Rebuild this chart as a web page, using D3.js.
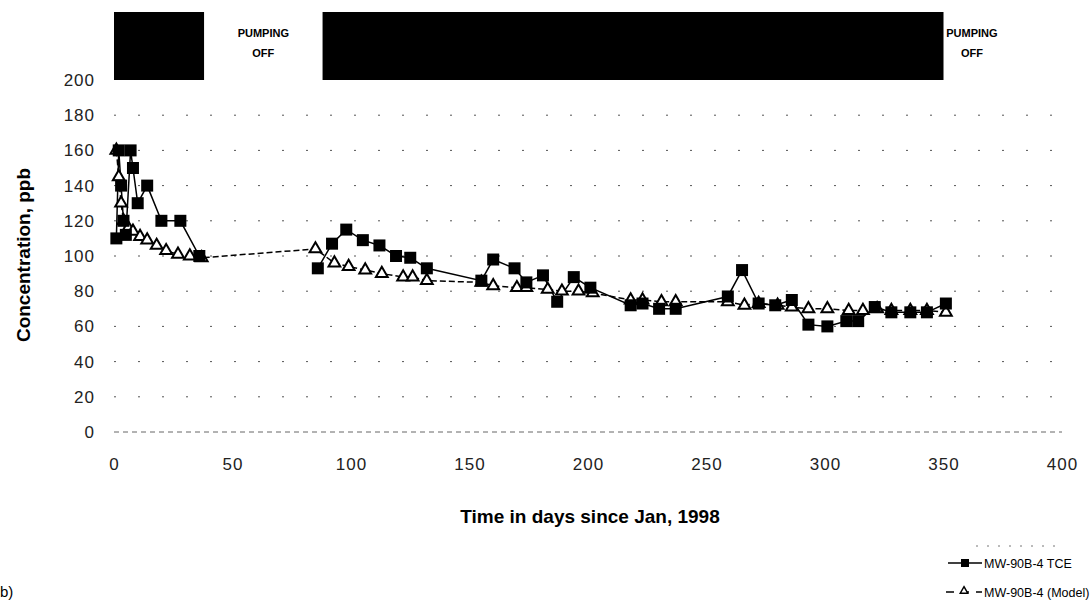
<!DOCTYPE html>
<html>
<head>
<meta charset="utf-8">
<script src="https://cdn.jsdelivr.net/npm/d3@7"></script>
<style>
  body { margin: 0; background: #fff; }
  text { font-family: "Liberation Sans", Arial, sans-serif; fill: #000; }
</style>
</head>
<body>
<script>
// Chart data
const xTicks = [0, 50, 100, 150, 200, 250, 300, 350, 400];
const yTicks = [0, 20, 40, 60, 80, 100, 120, 140, 160, 180, 200];

// periods when pumping was on (days)
const pumpingOn = [[0, 38], [88, 350]];
const pumpingOffText = ['PUMPING', 'OFF'];

const tceDays = [1, 2, 3, 4, 5, 7, 8, 10, 14, 20, 28, 36,
    86, 92, 98, 105, 112, 119, 125, 132,
    155, 160, 169, 174, 181, 187, 194, 201, 218, 223, 230, 237,
    259, 265, 272, 279, 286, 293, 301, 309, 314, 321, 328, 336, 343, 351];
const tceValues = [110, 160, 140, 120, 112, 160, 150, 130, 140, 120, 120, 100,
    93, 107, 115, 109, 106, 100, 99, 93,
    86, 98, 93, 85, 89, 74, 88, 82, 72, 73, 70, 70,
    77, 92, 73, 72, 75, 61, 60, 63, 63, 71, 68, 68, 68, 73];

const modelDays = [1, 2, 3, 4, 6, 8, 11, 14, 18, 22, 27, 32, 37,
    85, 93, 99, 106, 113, 122, 126, 132,
    155, 160, 170, 174, 183, 189, 196, 202, 218, 223, 231, 237,
    259, 266, 272, 280, 286, 293, 301, 310, 316, 322, 328, 336, 343, 351];
const modelValues = [160, 145, 130, 120, 116, 114, 111, 109, 106, 103, 101, 100, 99,
    104, 96, 94, 92, 90, 88, 88, 86,
    85, 83, 82, 82, 81, 80, 80, 79, 75, 75, 74, 74,
    74, 72, 73, 72, 71, 70, 70, 69, 69, 70, 69, 69, 69, 68];

const seriesNames = ['MW-90B-4 TCE', 'MW-90B-4 (Model)'];

const width = 1091;
const height = 608;

const svg = d3.select('body')
    .append('svg')
    .attr('width', width)
    .attr('height', height);

const xScale = d3.scaleLinear()
    .domain([0, 400])
    .range([114, 1062]);

const yScale = d3.scaleLinear()
    .domain([0, 200])
    .range([432, 80]);

// sparse dotted gridlines, like the scanned original
svg.append('g')
    .selectAll('line')
    .data(yTicks.filter(d => d > 0 && d < 200))
    .enter()
    .append('line')
    .attr('x1', xScale(0))
    .attr('x2', xScale(400))
    .attr('y1', d => yScale(d))
    .attr('y2', d => yScale(d))
    .attr('stroke', '#555')
    .attr('stroke-width', 1)
    .attr('stroke-dasharray', '2,22');

// zero line
svg.append('line')
    .attr('x1', xScale(0))
    .attr('x2', xScale(400))
    .attr('y1', yScale(0))
    .attr('y2', yScale(0))
    .attr('stroke', '#666')
    .attr('stroke-width', 1)
    .attr('stroke-dasharray', '5,4');

// y axis labels
const yAxis = d3.axisLeft(yScale).tickValues(yTicks).tickSize(0).tickPadding(0);
const yAxisG = svg.append('g')
    .attr('transform', 'translate(95,0)')
    .call(yAxis);
yAxisG.select('.domain').remove();
yAxisG.selectAll('text')
    .style('font-size', '17px')
    .style('letter-spacing', '1px')
    .style('fill', '#222');

// x axis labels
const xAxis = d3.axisBottom(xScale).tickValues(xTicks).tickSize(0).tickPadding(0);
const xAxisG = svg.append('g')
    .attr('transform', 'translate(0,458)')
    .call(xAxis);
xAxisG.select('.domain').remove();
xAxisG.selectAll('text')
    .style('font-size', '17px')
    .style('letter-spacing', '1px')
    .style('fill', '#222');

// axis titles
svg.append('text')
    .attr('x', 590)
    .attr('y', 523)
    .attr('text-anchor', 'middle')
    .attr('font-weight', 'bold')
    .style('font-size', '19px')
    .text('Time in days since Jan, 1998');

svg.append('text')
    .attr('transform', 'rotate(-90)')
    .attr('x', -255)
    .attr('y', 30)
    .attr('text-anchor', 'middle')
    .attr('font-weight', 'bold')
    .style('font-size', '19px')
    .text('Concentration, ppb');

// pumping bars
svg.append('g')
    .selectAll('rect')
    .data(pumpingOn)
    .enter()
    .append('rect')
    .attr('x', d => xScale(d[0]))
    .attr('width', d => xScale(d[1]) - xScale(d[0]))
    .attr('y', 12)
    .attr('height', yScale(200) - 12)
    .attr('fill', '#000');

// "PUMPING OFF" labels between / after the bars
const offCentres = [(pumpingOn[0][1] + pumpingOn[1][0]) / 2, pumpingOn[1][1] + 12];
offCentres.forEach(c => {
    const t = svg.append('text')
        .attr('x', xScale(c))
        .attr('y', 37)
        .attr('text-anchor', 'middle')
        .attr('font-weight', 'bold')
        .style('font-size', '11px');
    t.append('tspan').attr('x', xScale(c)).text(pumpingOffText[0]);
    t.append('tspan').attr('x', xScale(c)).attr('dy', 20).text(pumpingOffText[1]);
});

const tce = tceDays.map((d, i) => ({ day: d, value: tceValues[i] }));
const model = modelDays.map((d, i) => ({ day: d, value: modelValues[i] }));

// split the measured series where there is a long gap in sampling
const tceSegments = [];
tce.forEach((d, i) => {
    if (i === 0 || d.day - tce[i - 1].day > 30) tceSegments.push([]);
    tceSegments[tceSegments.length - 1].push(d);
});

const line = d3.line()
    .x(d => xScale(d.day))
    .y(d => yScale(d.value));

// model line (dashed)
svg.append('path')
    .datum(model)
    .attr('d', line)
    .attr('fill', 'none')
    .attr('stroke', '#000')
    .attr('stroke-width', 1.5)
    .attr('stroke-dasharray', '6,3');

// measured line
svg.append('g')
    .selectAll('path')
    .data(tceSegments)
    .enter()
    .append('path')
    .attr('d', line)
    .attr('fill', 'none')
    .attr('stroke', '#000')
    .attr('stroke-width', 1.5);

const triangle = d3.symbol().type(d3.symbolTriangle).size(60);

// model markers
svg.append('g')
    .selectAll('path')
    .data(model)
    .enter()
    .append('path')
    .attr('d', triangle)
    .attr('transform', d => `translate(${xScale(d.day)},${yScale(d.value)})`)
    .attr('fill', '#fff')
    .attr('stroke', '#000')
    .attr('stroke-width', 2);

// measured markers
svg.append('g')
    .selectAll('rect')
    .data(tce)
    .enter()
    .append('rect')
    .attr('x', d => xScale(d.day) - 6)
    .attr('y', d => yScale(d.value) - 6)
    .attr('width', 12)
    .attr('height', 12)
    .attr('fill', '#000');

// legend
const legend = svg.append('g')
    .attr('transform', 'translate(946,0)');

legend.append('line')
    .attr('x1', 30).attr('x2', 110)
    .attr('y1', 546).attr('y2', 546)
    .attr('stroke', '#777').attr('stroke-width', 1)
    .attr('stroke-dasharray', '2,9');

legend.append('line')
    .attr('x1', 2).attr('x2', 36)
    .attr('y1', 563).attr('y2', 563)
    .attr('stroke', '#000').attr('stroke-width', 1.5);
legend.append('rect')
    .attr('x', 15).attr('y', 559)
    .attr('width', 8).attr('height', 8)
    .attr('fill', '#000');
legend.append('text')
    .attr('x', 38).attr('y', 568)
    .style('font-size', '12.5px')
    .text(seriesNames[0]);

legend.append('line')
    .attr('x1', 0).attr('x2', 36)
    .attr('y1', 592).attr('y2', 592)
    .attr('stroke', '#000').attr('stroke-width', 1.5)
    .attr('stroke-dasharray', '8,7');
legend.append('path')
    .attr('d', d3.symbol().type(d3.symbolTriangle).size(24))
    .attr('transform', 'translate(18,591)')
    .attr('fill', '#fff')
    .attr('stroke', '#000')
    .attr('stroke-width', 1.5);
legend.append('text')
    .attr('x', 38).attr('y', 597)
    .style('font-size', '12.5px')
    .text(seriesNames[1]);

svg.append('text')
    .attr('x', 0)
    .attr('y', 597)
    .style('font-size', '15px')
    .text('b)');
</script>
</body>
</html>
